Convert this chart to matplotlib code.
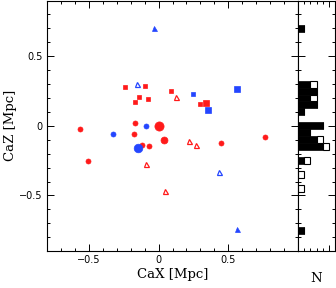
import numpy as np
import matplotlib
matplotlib.use("Agg")
import matplotlib.pyplot as plt
from matplotlib.ticker import MultipleLocator, FixedLocator, NullFormatter

# --- scatter data (CaX, CaZ in Mpc) ---
red_circle_x = [-0.564, -0.169, -0.179, 0.448, 0.764, -0.116, -0.066, -0.509]
red_circle_y = [-0.024, 0.022, -0.062, -0.122, -0.081, -0.134, -0.148, -0.255]
red_circle_mid_x = [0.038]
red_circle_mid_y = [-0.103]
red_circle_big_x = [0.0]
red_circle_big_y = [0.0]
blue_circle_x = [-0.09, -0.329]
blue_circle_y = [-0.002, -0.06]
blue_circle_big_x = [-0.147]
blue_circle_big_y = [-0.162]
red_square_x = [-0.24, -0.097, 0.088, -0.138, -0.079, -0.171, 0.30]
red_square_y = [0.277, 0.285, 0.25, 0.204, 0.196, 0.172, 0.16]
red_square_big_x = [0.34]
red_square_big_y = [0.165]
blue_square_x = [0.245]
blue_square_y = [0.23]
blue_square_big_x = [0.562, 0.357]
blue_square_big_y = [0.265, 0.115]
red_open_tri_x = [0.122, 0.219, 0.267, -0.09, 0.048]
red_open_tri_y = [0.206, -0.107, -0.138, -0.272, -0.468]
blue_open_tri_x = [-0.157, 0.436]
blue_open_tri_y = [0.30, -0.332]
blue_tri_x = [-0.03, 0.56]
blue_tri_y = [0.705, -0.743]

# --- histogram of CaZ (bin centres, filled counts, open counts) ---
hist_centers = [0.70, 0.30, 0.25, 0.20, 0.15, 0.10, 0.00, -0.05, -0.10, -0.15,
                -0.25, -0.35, -0.45, -0.75]
hist_filled = [1, 2, 3, 2, 3, 1, 4, 2, 3, 4, 1, 0, 0, 1]
hist_open = [0, 1, 0, 1, 0, 0, 0, 0, 1, 1, 1, 1, 1, 0]
bin_width = 0.05

RED = "#ff1a1a"
BLUE = "#2446ff"

fig = plt.figure(figsize=(3.36, 2.88), dpi=100)
ax = fig.add_axes([0.140, 0.128, 0.747, 0.870])
axh = fig.add_axes([0.887, 0.128, 0.110, 0.870], sharey=ax)

def pts(x, y, color, marker, size, filled=True):
    ax.plot(x, y, linestyle="none", marker=marker, markersize=size,
            markerfacecolor=color if filled else "none",
            markeredgecolor=color, markeredgewidth=0.9 if not filled else 0.5)

pts(red_circle_x, red_circle_y, RED, "o", 3.6)
pts(red_circle_mid_x, red_circle_mid_y, RED, "o", 5.0)
pts(red_circle_big_x, red_circle_big_y, RED, "o", 6.6)
pts(blue_circle_x, blue_circle_y, BLUE, "o", 3.6)
pts(blue_circle_big_x, blue_circle_big_y, BLUE, "o", 6.2)
pts(red_square_x, red_square_y, RED, "s", 3.2)
pts(red_square_big_x, red_square_big_y, RED, "s", 4.4)
pts(blue_square_x, blue_square_y, BLUE, "s", 3.0)
pts(blue_square_big_x, blue_square_big_y, BLUE, "s", 4.4)
pts(red_open_tri_x, red_open_tri_y, RED, "^", 3.6, filled=False)
pts(blue_open_tri_x, blue_open_tri_y, BLUE, "^", 3.6, filled=False)
pts(blue_tri_x, blue_tri_y, BLUE, "^", 3.6)

ax.set_xlim(-0.8, 1.0)
ax.set_ylim(-0.9, 0.9)
ax.xaxis.set_major_locator(MultipleLocator(0.5))
ax.xaxis.set_minor_locator(MultipleLocator(0.1))
ax.yaxis.set_major_locator(MultipleLocator(0.5))
ax.yaxis.set_minor_locator(MultipleLocator(0.1))
ax.set_xticks([-0.5, 0, 0.5])
ax.set_xticklabels(["\u22120.5", "0", "0.5"])
ax.set_yticks([-0.5, 0, 0.5])
ax.set_yticklabels(["\u22120.5", "0", "0.5"])
for a in (ax, axh):
    a.tick_params(which="both", direction="in", top=True, right=True,
                  width=0.7, labelsize=7, pad=3)
    a.tick_params(which="major", length=5)
    a.tick_params(which="minor", length=2.5)
    for s in a.spines.values():
        s.set_linewidth(0.8)

ax.set_xlabel("CaX [Mpc]", family="DejaVu Serif", fontsize=9.5, labelpad=2)
ax.set_ylabel("CaZ [Mpc]", family="DejaVu Serif", fontsize=9.5, labelpad=2)

# histogram panel
axh.barh(hist_centers, hist_filled, height=bin_width, color="black",
         edgecolor="black", linewidth=0.5)
axh.barh(hist_centers, hist_open, height=bin_width, left=hist_filled,
         color="white", edgecolor="black", linewidth=0.8)
axh.set_xlim(0, 6)
axh.xaxis.set_major_locator(FixedLocator([5]))
axh.xaxis.set_minor_locator(FixedLocator([1, 2, 3, 4]))
axh.xaxis.set_major_formatter(NullFormatter())
axh.tick_params(axis="x", which="major", length=4)
axh.tick_params(axis="y", labelleft=False)
axh.set_xlabel("N", family="DejaVu Serif", fontsize=9.5, labelpad=12)

fig.savefig("out.png", dpi=100)
